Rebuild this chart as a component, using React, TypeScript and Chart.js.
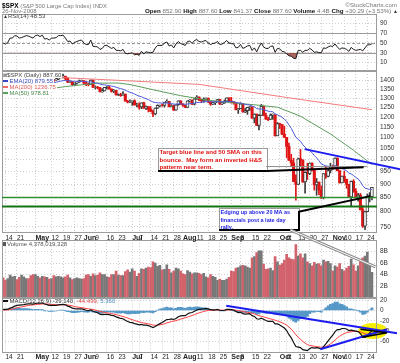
import React, { useEffect, useRef } from 'react';
import { Chart, registerables } from 'chart.js';

Chart.register(...registerables);
Chart.defaults.font.family = '"Liberation Sans", Arial, sans-serif';

// ---------------- data ----------------
const TRADING_DAYS: [number, number[]][] = [
  [4, [11, 14, 15, 16, 17, 18, 21, 22, 23, 24, 25, 28, 29, 30]],
  [5, [1, 2, 5, 6, 7, 8, 9, 12, 13, 14, 15, 16, 19, 20, 21, 22, 23, 27, 28, 29, 30]],
  [6, [2, 3, 4, 5, 6, 9, 10, 11, 12, 13, 16, 17, 18, 19, 20, 23, 24, 25, 26, 27, 30]],
  [7, [1, 2, 3, 7, 8, 9, 10, 11, 14, 15, 16, 17, 18, 21, 22, 23, 24, 25, 28, 29, 30, 31]],
  [8, [1, 4, 5, 6, 7, 8, 11, 12, 13, 14, 15, 18, 19, 20, 21, 22, 25, 26, 27, 28, 29]],
  [9, [2, 3, 4, 5, 8, 9, 10, 11, 12, 15, 16, 17, 18, 19, 22, 23, 24, 25, 26, 29, 30]],
  [10, [1, 2, 3, 6, 7, 8, 9, 10, 13, 14, 15, 16, 17, 20, 21, 22, 23, 24, 27, 28, 29, 30, 31]],
  [11, [3, 4, 5, 6, 7, 10, 11, 12, 13, 14, 17, 18, 19, 20, 21, 24, 25, 26]],
];
const DATES = TRADING_DAYS.flatMap(([m, ds]) => ds.map((d) => `${m}/${d}`));

const OPEN = [
  1357, 1333, 1328, 1334, 1365, 1366, 1390, 1388, 1376, 1380, 1389, 1398, 1396, 1391,
  1386, 1409, 1414, 1407, 1418, 1393, 1398, 1388, 1404, 1403, 1409, 1424, 1425, 1427, 1413, 1391, 1394, 1376, 1385, 1391, 1398,
  1400, 1386, 1378, 1377, 1404, 1361, 1362, 1358, 1335, 1340, 1362, 1360, 1351, 1338, 1343, 1319, 1318, 1314, 1322, 1283, 1278,
  1280, 1285, 1262, 1263, 1252, 1274, 1245, 1253, 1239, 1228, 1215, 1245, 1260, 1261, 1260, 1277, 1282, 1253, 1258, 1234, 1263, 1284,
  1267, 1260, 1249, 1285, 1289, 1266, 1296, 1305, 1290, 1286, 1293, 1298, 1279, 1267, 1275, 1278, 1292, 1267, 1272, 1282, 1301,
  1283, 1278, 1275, 1237, 1242, 1268, 1225, 1232, 1249, 1252, 1193, 1214, 1156, 1207, 1255, 1207, 1188, 1186, 1209, 1210, 1106,
  1166, 1161, 1114, 1099, 1057, 996, 985, 910, 899, 1003, 998, 908, 946, 941, 985, 955, 897, 908, 877, 849, 941, 930, 954,
  969, 966, 1006, 953, 905, 931, 919, 899, 852, 911, 873, 851, 859, 807, 752, 800, 852, 852.9,
];
const HIGH = [
  1357, 1335, 1336, 1368, 1371, 1395, 1390, 1389, 1388, 1397, 1398, 1402, 1397, 1404,
  1410, 1422, 1415, 1421, 1418, 1401, 1398, 1405, 1407, 1420, 1424, 1427, 1440, 1427, 1420, 1399, 1394, 1387, 1392, 1404, 1404,
  1400, 1394, 1386, 1405, 1404, 1370, 1366, 1361, 1353, 1360, 1365, 1367, 1351, 1348, 1343, 1323, 1327, 1336, 1322, 1287, 1290,
  1285, 1290, 1272, 1273, 1274, 1277, 1257, 1253, 1254, 1235, 1246, 1263, 1262, 1267, 1277, 1291, 1282, 1264, 1260, 1264, 1285, 1285,
  1270, 1260, 1285, 1292, 1289, 1297, 1313, 1306, 1294, 1301, 1301, 1301, 1279, 1277, 1280, 1293, 1292, 1276, 1289, 1301, 1301,
  1304, 1281, 1275, 1244, 1274, 1268, 1243, 1250, 1255, 1252, 1215, 1214, 1211, 1265, 1255, 1219, 1197, 1215, 1215, 1210, 1171,
  1166, 1161, 1153, 1099, 1072, 1022, 1005, 936, 1006, 1044, 998, 948, 984, 985, 985, 955, 922, 908, 893, 941, 970, 963, 984,
  975, 1007, 1006, 953, 931, 951, 919, 899, 912, 917, 883, 865, 865, 821, 801, 863, 868, 887.6,
];
const LOW = [
  1331, 1324, 1324, 1334, 1360, 1366, 1380, 1371, 1372, 1367, 1380, 1394, 1386, 1384,
  1383, 1406, 1404, 1398, 1391, 1390, 1384, 1387, 1396, 1403, 1405, 1416, 1416, 1406, 1388, 1389, 1372, 1374, 1379, 1390, 1396,
  1378, 1371, 1369, 1377, 1359, 1351, 1352, 1335, 1332, 1340, 1351, 1350, 1333, 1330, 1316, 1314, 1309, 1314, 1283, 1273, 1275,
  1260, 1261, 1252, 1240, 1242, 1244, 1237, 1225, 1226, 1200, 1210, 1243, 1251, 1255, 1251, 1276, 1252, 1251, 1234, 1234, 1260, 1265,
  1254, 1247, 1249, 1277, 1264, 1262, 1292, 1285, 1275, 1276, 1287, 1274, 1260, 1263, 1264, 1278, 1264, 1263, 1271, 1282, 1282,
  1272, 1266, 1236, 1217, 1242, 1224, 1221, 1212, 1233, 1192, 1169, 1156, 1134, 1207, 1206, 1187, 1180, 1186, 1187, 1106, 1106,
  1141, 1112, 1098, 1008, 996, 970, 909, 840, 899, 972, 907, 866, 918, 937, 952, 877, 858, 860, 846, 845, 922, 928, 944,
  958, 966, 952, 904, 905, 907, 884, 852, 818, 869, 848, 837, 806, 748, 741, 800, 834, 841.37,
];
const CLOSE = [
  1333, 1328, 1334, 1365, 1366, 1390, 1388, 1376, 1380, 1389, 1398, 1396, 1391, 1386,
  1409, 1414, 1407, 1418, 1393, 1398, 1388, 1404, 1403, 1409, 1424, 1425, 1427, 1413, 1391, 1394, 1376, 1385, 1391, 1398, 1400,
  1386, 1378, 1377, 1404, 1361, 1362, 1358, 1335, 1340, 1360, 1360, 1351, 1338, 1343, 1318, 1318, 1314, 1322, 1283, 1278, 1280,
  1285, 1262, 1263, 1252, 1274, 1245, 1253, 1239, 1228, 1215, 1245, 1260, 1261, 1260, 1277, 1282, 1253, 1258, 1234, 1263, 1284, 1267,
  1260, 1249, 1285, 1289, 1266, 1296, 1305, 1290, 1286, 1293, 1298, 1279, 1267, 1275, 1278, 1292, 1267, 1272, 1282, 1301, 1283,
  1278, 1275, 1237, 1242, 1268, 1225, 1232, 1249, 1252, 1193, 1214, 1156, 1207, 1255, 1207, 1188, 1186, 1209, 1213, 1106, 1166,
  1161, 1114, 1099, 1057, 996, 985, 910, 899, 1003, 998, 908, 946, 941, 985, 955, 897, 908, 877, 849, 941, 930, 954, 969,
  966, 1006, 953, 905, 931, 919, 899, 852, 911, 873, 851, 859, 807, 752, 800, 852, 857.31, 887.6,
];
const VOLUME_B = [
  3.4, 3.0, 3.3, 3.9, 3.6, 3.7, 3.1, 3.5, 3.9, 3.6, 3.3, 3.3, 3.8, 4.0,
  4.0, 3.7, 3.4, 3.7, 3.6, 3.5, 3.2, 3.3, 3.8, 3.6, 3.7, 3.6, 3.4, 3.6, 3.9, 3.4, 3.1, 3.3, 3.4, 3.3, 3.2,
  3.3, 3.9, 4.0, 3.7, 4.1, 3.8, 3.9, 4.3, 4.0, 4.0, 3.6, 3.5, 4.0, 4.0, 4.6, 3.9, 3.8, 3.8, 4.5, 4.8, 4.4,
  5.0, 4.6, 3.7, 4.2, 5.0, 4.9, 5.1, 5.3, 5.2, 6.2, 6.0, 5.4, 5.6, 4.8, 4.9, 5.7, 4.9, 4.3, 4.6, 5.1, 5.0, 4.6,
  4.1, 4.0, 4.7, 4.4, 4.1, 4.3, 4.3, 4.2, 4.0, 4.2, 3.6, 3.4, 4.0, 3.7, 3.5, 3.0, 3.2, 3.0, 3.0, 3.2, 3.5,
  4.6, 4.5, 5.1, 5.2, 5.5, 5.6, 5.5, 5.3, 5.1, 6.9, 7.1, 7.8, 8.1, 8.1, 5.8, 4.9, 5.0, 5.1, 4.7, 7.1, 6.2,
  5.6, 5.9, 6.5, 7.5, 6.9, 6.7, 6.6, 9.2, 7.2, 7.6, 6.9, 7.6, 6.2, 5.9, 5.5, 6.1, 5.8, 5.9, 5.5, 6.5, 6.2, 6.3, 5.9,
  4.6, 5.5, 5.3, 5.9, 4.9, 4.6, 5.1, 5.4, 6.7, 5.7, 4.6, 5.5, 6.3, 6.9, 7.2, 7.9, 5.6, 4.38,
];
const RSI14 = [
  50, 48, 51, 60, 60, 65, 64, 60, 61, 63, 65, 64, 62, 60,
  65, 66, 63, 66, 58, 59, 56, 60, 60, 61, 65, 65, 66, 60, 53, 54, 48, 51, 53, 55, 56,
  50, 47, 47, 56, 43, 43, 42, 37, 39, 45, 45, 42, 39, 41, 35, 35, 34, 37, 29, 28, 29,
  30, 26, 27, 25, 33, 28, 32, 31, 30.5, 31, 40, 45, 45, 45, 50, 52, 44, 46, 40, 48, 53, 49,
  47, 45, 53, 54, 49, 55, 57, 53, 52, 54, 55, 50, 47, 49, 50, 53, 47, 48, 51, 55, 50,
  49, 48, 40, 41, 47, 39, 41, 44, 45, 35, 40, 32, 42, 50, 42, 39, 39, 43, 44, 31, 39,
  38, 33, 32, 28, 24, 23, 19, 18, 35, 35, 31, 35, 35, 39, 36, 31, 32, 30.5, 30, 40, 39, 42, 44,
  43, 48, 42, 37, 40, 39, 37, 33, 41, 37, 35, 36, 37, 34, 40, 46, 46.5, 48.53,
];
const EMA20 = [
  1335, 1334, 1334, 1337, 1340, 1345, 1349, 1351, 1354, 1357, 1361, 1364, 1367, 1369,
  1373, 1377, 1380, 1383, 1384, 1385, 1386, 1387, 1389, 1391, 1394, 1397, 1400, 1401, 1400, 1399, 1397, 1396, 1396, 1396, 1396,
  1395, 1394, 1392, 1393, 1390, 1387, 1385, 1380, 1376, 1375, 1373, 1371, 1368, 1366, 1361, 1357, 1353, 1350, 1344, 1338, 1332,
  1328, 1322, 1316, 1310, 1307, 1301, 1296, 1291, 1285, 1278, 1275, 1274, 1273, 1272, 1272, 1273, 1271, 1270, 1267, 1266, 1268, 1268,
  1267, 1265, 1267, 1269, 1269, 1272, 1275, 1276, 1277, 1279, 1280, 1280, 1279, 1279, 1279, 1280, 1279, 1278, 1278, 1281, 1281,
  1281, 1280, 1276, 1273, 1272, 1268, 1265, 1263, 1262, 1256, 1252, 1243, 1240, 1241, 1238, 1233, 1229, 1227, 1226, 1215, 1210,
  1205, 1197, 1188, 1176, 1159, 1142, 1120, 1099, 1090, 1081, 1065, 1054, 1043, 1038, 1030, 1017, 1007, 995, 981, 977, 973, 971, 971,
  970, 974, 972, 965, 962, 958, 953, 943, 940, 934, 926, 920, 909, 894, 885, 882, 880, 879.55,
];
const MA50_PTS: [number, number][] = [
  [0, 1335], [14, 1340], [27, 1365], [41, 1385], [50, 1386], [55, 1377], [65, 1347], [77, 1313],
  [88, 1290], [98, 1275], [108, 1264], [119, 1250], [129, 1203], [142, 1115], [152, 1040], [160, 978.81],
];
const MA200_PTS: [number, number][] = [
  [0, 1438], [23, 1420], [50, 1402], [85, 1378], [123, 1303], [160, 1236.75],
];
const MACD_LINE = [
  2, 2, 2.5, 4.5, 6, 8.5, 10, 10.5, 11, 11.5, 12.5, 13, 13, 12.5,
  13.5, 14, 14, 14.5, 12.5, 11.5, 10, 10, 10, 10, 11, 11.5, 12, 11, 8.5, 7, 4.5, 3.5, 3, 3, 3,
  2, 0.5, -0.5, 1, -1.5, -3, -4.5, -7, -8, -7.5, -7.5, -8, -9.5, -10, -12.5, -14, -15.5, -16, -19, -21.5, -23,
  -23.5, -25.5, -26.5, -28, -27, -28.5, -28.5, -29.5, -31, -33, -31, -28, -25.5, -23.5, -20.5, -17.5, -17.5, -16.5, -17.5, -15.5, -12, -10.5,
  -10, -10, -7, -4.5, -4, -1.5, 1, 2, 2.5, 3, 4, 3, 1.5, 1, 1, 2, 0.5, 0, 0.5, 2, 2,
  1.5, 1, -2, -4, -3.5, -6, -7, -6.5, -6, -10, -11.5, -16, -17, -15, -17, -19.5, -21, -21, -21, -26, -26,
  -28, -31, -34, -39, -47, -53, -62, -70, -71, -72, -76, -77, -78, -74, -72, -73, -72, -73, -75, -70, -65, -59, -53,
  -48, -41, -37, -37, -35, -35, -36, -39, -38, -39, -40, -41, -45, -51, -52, -49, -44, -39.14,
];
const MACD_SIGNAL = [
  0.5, 0.8, 1.1, 1.8, 2.7, 3.8, 5.1, 6.2, 7.1, 8, 8.9, 9.7, 10.4, 10.8,
  11.3, 11.9, 12.3, 12.7, 12.7, 12.5, 12, 11.6, 11.3, 11, 11, 11.1, 11.3, 11.2, 10.7, 9.9, 8.9, 7.8, 6.8, 6.1, 5.5,
  4.8, 3.9, 3, 2.6, 1.8, 0.8, -0.2, -1.6, -2.9, -3.8, -4.5, -5.2, -6.1, -6.9, -8, -9.2, -10.5, -11.6, -13.1, -14.7, -16.4,
  -17.8, -19.4, -20.8, -22.2, -23.2, -24.2, -25.1, -26, -27, -28.2, -28.8, -28.6, -28, -27.1, -25.8, -24.1, -22.8, -21.5, -20.7, -19.7, -18.2, -16.6,
  -15.3, -14.2, -12.8, -11.1, -9.7, -8.1, -6.3, -4.6, -3.2, -2, -0.8, 0, 0.3, 0.4, 0.6, 0.8, 0.8, 0.6, 0.6, 0.9, 1.1,
  1.2, 1.2, 0.5, -0.4, -1, -2, -3, -3.7, -4.2, -5.3, -6.6, -8.5, -10.2, -11.1, -12.3, -13.7, -15.2, -16.4, -17.3, -19, -20.4,
  -21.9, -23.7, -25.8, -28.4, -32.1, -36.3, -41.4, -47.1, -51.9, -55.9, -59.9, -63.3, -66.3, -67.8, -68.7, -69.5, -70, -70.6, -71.5, -71.2, -70, -67.8, -64.8,
  -61.5, -57.4, -53.3, -50, -47, -44.6, -42.9, -42.1, -41.3, -40.8, -40.7, -40.7, -41.6, -43.5, -45.2, -45.9, -45.5, -44.499,
];
const MACD_HIST = [
  1.5, 1.2, 1.4, 2.7, 3.3, 4.7, 4.9, 4.3, 3.9, 3.5, 3.6, 3.3, 2.6, 1.7,
  2.2, 2.1, 1.7, 1.8, -0.2, -1, -2, -1.6, -1.3, -1, 0, 0.4, 0.7, -0.2, -2.2, -2.9, -4.4, -4.3, -3.8, -3.1, -2.5,
  -2.8, -3.4, -3.5, -1.6, -3.3, -3.8, -4.3, -5.4, -5.1, -3.7, -3, -2.8, -3.4, -3.1, -4.5, -4.8, -5, -4.4, -5.9, -6.8, -6.6,
  -5.7, -6.1, -5.7, -5.8, -3.8, -4.3, -3.4, -3.5, -4, -4.8, -2.2, 0.6, 2.5, 3.6, 5.3, 6.6, 5.3, 5, 3.2, 4.2, 6.2, 6.1,
  5.3, 4.2, 5.8, 6.6, 5.7, 6.6, 7.3, 6.6, 5.7, 5, 4.8, 3, 1.2, 0.6, 0.4, 1.2, -0.3, -0.6, -0.1, 1.1, 0.9,
  0.3, -0.2, -2.5, -3.6, -2.5, -4, -4, -2.8, -1.8, -4.7, -4.9, -7.5, -6.8, -3.9, -4.7, -5.8, -5.8, -4.6, -3.7, -7, -5.6,
  -6.1, -7.3, -8.2, -10.6, -14.9, -16.7, -20.6, -22.9, -19.1, -16.1, -16.1, -13.7, -11.7, -6.2, -3.3, -3.5, -2, -2.4, -3.5, 1.2, 5, 8.8, 11.8,
  13.5, 16.4, 16.3, 13, 12, 9.6, 6.9, 3.1, 3.3, 1.8, 0.7, -0.3, -3.4, -7.5, -6.8, -3.1, 1.5, 5.36,
];

const X_TICKS: [string, string][] = [
  ['4/14', '14'], ['4/21', '21'], ['5/1', 'May'], ['5/12', '12'], ['5/19', '19'], ['5/27', '27'],
  ['6/2', 'Jun'], ['6/9', '9'], ['6/16', '16'], ['6/23', '23'], ['7/1', 'Jul'], ['7/7', '7'],
  ['7/14', '14'], ['7/21', '21'], ['7/28', '28'], ['8/1', 'Aug'], ['8/11', '11'], ['8/18', '18'],
  ['8/25', '25'], ['9/2', 'Sep'], ['9/8', '8'], ['9/15', '15'], ['9/22', '22'], ['10/1', 'Oct'],
  ['10/6', '6'], ['10/13', '13'], ['10/20', '20'], ['10/27', '27'], ['11/3', 'Nov'], ['11/10', '10'],
  ['11/17', '17'], ['11/24', '24'],
];
const RSI_TICKS = [10, 30, 50, 70, 90];
const PRICE_TICKS = [750, 800, 850, 900, 950, 1000, 1050, 1100, 1150, 1200, 1250, 1300, 1350, 1400];
const VOLUME_TICKS = [2, 4, 6, 8];
const MACD_TICKS = [20, 0, -20, -40, -60];

// annotations (in data units of their panel)
const SUPPORT_LEVELS = [850, 818];
const PRICE_TRENDLINE: [number, number][] = [[130.8, 1045], [172.3, 959]];
const NOTE1 = { x0: 67.3, x1: 114.5, y0: 1050, y1: 953 };
const NOTE1_TEXT = ['Target blue line and 50 SMA on this', 'bounce.  May form an inverted H&S', 'patterm near term.'];
const NOTE1_BLACK: [number, number][] = [[114.5, 952], [156.4, 967]];
const NOTE1_GRAY: [number, number][] = [[114, 970], [158, 970]];
const NOTE2 = { x0: 93.5, x1: 128.2, y0: 811.6, y1: 739.6 };
const NOTE2_TEXT = ['Edging up above 20 MA as', 'financials post a late day', 'rally.'];
const NOTE2_POINTER: [number, number][] = [[128.2, 800], [159.3, 855]];
const NOTE2_TO_VOLUME: [number, number][] = [[124.6, 740], [161.5, 632]];
const MACD_UPPER: [number, number][] = [[96.8, 9.3], [170.9, -44.3]];
const MACD_LOWER: [number, number][] = [[137.6, -75.3], [166.6, -36.5]];
const MACD_TRI_A: [number, number][] = [[155, -36.5], [166.5, -43.1]];
const MACD_TRI_B: [number, number][] = [[155.7, -52], [166.5, -43.1]];
const MACD_ELLIPSE = { x0: 154.1, x1: 166.7, y0: -24.3, y1: -55.3 };

// ---------------- helpers ----------------
const X_MIN = -0.5;
const X_MAX = 162.2;
const TICK_IDX = X_TICKS.map(([d, label]) => ({ idx: DATES.indexOf(d), label }));
const TICK_LABEL = new Map<number, string>(TICK_IDX.map((t) => [t.idx, t.label]));
const MONTHS = new Set(['May', 'Jun', 'Jul', 'Aug', 'Sep', 'Oct', 'Nov']);
const GRID = '#cfcfcf';

function xScale(showLabels: boolean, h: number): any {
  return {
    type: 'linear', min: X_MIN, max: X_MAX, bounds: 'data', offset: false,
    afterBuildTicks: (s: any) => { s.ticks = TICK_IDX.map((t) => ({ value: t.idx })); },
    afterFit: (s: any) => { s.height = h; },
    ticks: {
      display: showLabels, autoSkip: false, maxRotation: 0, minRotation: 0, align: 'start', padding: 1,
      color: '#222',
      font: (c: any) => (MONTHS.has(TICK_LABEL.get(c?.tick?.value) ?? '') ? { size: 7, weight: 'bold' } : { size: 6.5 }),
      callback: (v: any) => TICK_LABEL.get(Number(v)) ?? '',
    },
    grid: { color: GRID, lineWidth: 1, drawTicks: false, offset: false },
    border: { display: false, dash: [1, 2] },
  };
}
function yScale(cfg: any, tickVals: number[], fmt: (v: number) => string): any {
  return {
    position: 'right', bounds: 'data', ...cfg,
    afterBuildTicks: (s: any) => { s.ticks = tickVals.map((v) => ({ value: v })); },
    afterFit: (s: any) => { s.width = 23; },
    ticks: { color: '#333', font: { size: 6.5 }, padding: 3, autoSkip: false, callback: (v: any) => fmt(Number(v)) },
    grid: { color: GRID, drawTicks: false },
    border: { display: false, dash: [1, 2] },
  };
}
function baseOptions(top: number, bottom: number): any {
  return {
    responsive: false, maintainAspectRatio: false, animation: false, devicePixelRatio: 1, events: [],
    layout: { padding: { left: 2, right: 0, top, bottom } },
    plugins: { legend: { display: false }, tooltip: { enabled: false }, title: { display: false } },
  };
}
const framePlugin = {
  id: 'frame',
  afterDraw(chart: any) {
    const { ctx, chartArea: a } = chart;
    ctx.save();
    ctx.strokeStyle = '#9c9c9c';
    ctx.lineWidth = 1;
    ctx.strokeRect(Math.round(a.left) + 0.5, Math.round(a.top) + 0.5, Math.round(a.right - a.left) - 1, Math.round(a.bottom - a.top) - 1);
    ctx.restore();
  },
};
function seg(chart: any, pts: [number, number][], color: string, width: number) {
  const { ctx, scales } = chart;
  ctx.save();
  ctx.strokeStyle = color;
  ctx.lineWidth = width;
  ctx.beginPath();
  pts.forEach(([a, b], k) => {
    const px = scales.x.getPixelForValue(a);
    const py = scales.y.getPixelForValue(b);
    if (k) ctx.lineTo(px, py); else ctx.moveTo(px, py);
  });
  ctx.stroke();
  ctx.restore();
}
function noteBox(chart: any, b: any, lines: string[], color: string, fontPx: number, rightBlack: boolean) {
  const { ctx, scales } = chart;
  const x0 = Math.round(scales.x.getPixelForValue(b.x0));
  const x1 = Math.round(scales.x.getPixelForValue(b.x1));
  const y0 = Math.round(scales.y.getPixelForValue(b.y0));
  const y1 = Math.round(scales.y.getPixelForValue(b.y1));
  ctx.save();
  ctx.fillStyle = '#fff';
  ctx.fillRect(x0, y0, x1 - x0, y1 - y0);
  ctx.strokeStyle = '#9a9a9a';
  ctx.lineWidth = 1;
  ctx.strokeRect(x0 + 0.5, y0 + 0.5, x1 - x0, y1 - y0);
  ctx.strokeStyle = '#000';
  ctx.lineWidth = 2;
  ctx.beginPath();
  ctx.moveTo(x0, y1);
  ctx.lineTo(x1 + 1, y1);
  if (rightBlack) { ctx.moveTo(x1, y0 + 3); ctx.lineTo(x1, y1); }
  ctx.stroke();
  ctx.fillStyle = color;
  ctx.font = `bold ${fontPx}px "Liberation Sans", Arial, sans-serif`;
  ctx.textBaseline = 'middle';
  lines.forEach((t, k) => ctx.fillText(t, x0 + 1.5, y0 + 4.6 + k * 7.4));
  ctx.restore();
}

const UP = '#3a3a3a';
const DOWN = '#e01414';
const VOL_UP = '#787878';
const VOL_DOWN = '#d2636c';

export default function App() {
  const rsiRef = useRef<HTMLCanvasElement | null>(null);
  const priceRef = useRef<HTMLCanvasElement | null>(null);
  const volRef = useRef<HTMLCanvasElement | null>(null);
  const macdRef = useRef<HTMLCanvasElement | null>(null);

  useEffect(() => {
    document.body.style.margin = '0';
    const charts: Chart[] = [];
    const idx = CLOSE.map((_, i) => i);
    const upDay = (i: number) => (i === 0 ? CLOSE[0] >= OPEN[0] : CLOSE[i] >= CLOSE[i - 1]);
    const hollow = (i: number) => CLOSE[i] >= OPEN[i];
    const hollowIdx = idx.filter(hollow);
    const filledIdx = idx.filter((i) => !hollow(i));

    // RSI
    charts.push(new Chart(rsiRef.current as HTMLCanvasElement, {
      type: 'line',
      data: {
        datasets: [{
          data: RSI14.map((v, i) => ({ x: i, y: v })),
          borderColor: '#1a1a1a', borderWidth: 1, pointRadius: 0, tension: 0,
          fill: { target: { value: 30 }, above: 'rgba(0,0,0,0)', below: 'rgba(150,72,60,0.85)' },
        }],
      },
      options: {
        ...baseOptions(14, 292),
        scales: { x: xScale(false, 0), y: yScale({ type: 'linear', min: -7, max: 109 }, RSI_TICKS, (v) => String(v)) },
      },
      plugins: [framePlugin, {
        id: 'rsiLevels',
        beforeDatasetsDraw(chart: any) {
          const { ctx, chartArea: a, scales } = chart;
          ctx.save();
          ctx.lineWidth = 1;
          ([[70, []], [30, []], [50, [3, 2]]] as [number, number[]][]).forEach(([v, dash]) => {
            const py = Math.round(scales.y.getPixelForValue(v)) + 0.5;
            ctx.setLineDash(dash);
            ctx.strokeStyle = '#9a9a9a';
            ctx.beginPath();
            ctx.moveTo(a.left, py);
            ctx.lineTo(a.right, py);
            ctx.stroke();
          });
          ctx.restore();
        },
      }] as any,
    } as any));

    // Volume
    charts.push(new Chart(volRef.current as HTMLCanvasElement, {
      type: 'bar',
      data: {
        datasets: [{
          data: VOLUME_B.map((v, i) => ({ x: i, y: v })),
          backgroundColor: idx.map((i) => (upDay(i) ? VOL_UP : VOL_DOWN)),
          barThickness: 2, grouped: false,
        }],
      },
      options: {
        ...baseOptions(240, 65.5),
        scales: { x: xScale(false, 0), y: yScale({ type: 'linear', min: 0, max: 10 }, VOLUME_TICKS, (v) => `${v}B`) },
      },
      plugins: [framePlugin] as any,
    } as any));

    // MACD
    charts.push(new Chart(macdRef.current as HTMLCanvasElement, {
      type: 'bar',
      data: {
        datasets: [
          { type: 'line', data: MACD_LINE.map((v, i) => ({ x: i, y: v })), borderColor: '#111', borderWidth: 1.2, pointRadius: 0, order: 0 },
          { type: 'line', data: MACD_SIGNAL.map((v, i) => ({ x: i, y: v })), borderColor: '#ff3c3c', borderWidth: 1, pointRadius: 0, order: 1 },
          { type: 'bar', data: MACD_HIST.map((v, i) => ({ x: i, y: v })), backgroundColor: '#5598c8', barThickness: 2.2, grouped: false, order: 2 },
        ],
      },
      options: {
        ...baseOptions(297.5, 1),
        scales: { x: xScale(true, 10), y: yScale({ type: 'linear', min: -80.6, max: 25.2 }, MACD_TICKS, (v) => String(v)) },
      },
      plugins: [framePlugin, {
        id: 'macdNotes',
        beforeDatasetDraw(chart: any, args: any) {
          if (args.index !== 1) return;
          const { ctx, scales } = chart;
          const x0 = scales.x.getPixelForValue(MACD_ELLIPSE.x0);
          const x1 = scales.x.getPixelForValue(MACD_ELLIPSE.x1);
          const y0 = scales.y.getPixelForValue(MACD_ELLIPSE.y0);
          const y1 = scales.y.getPixelForValue(MACD_ELLIPSE.y1);
          ctx.save();
          ctx.fillStyle = '#f6ee00';
          ctx.beginPath();
          ctx.ellipse((x0 + x1) / 2, (y0 + y1) / 2, Math.abs(x1 - x0) / 2, Math.abs(y1 - y0) / 2, 0, 0, Math.PI * 2);
          ctx.fill();
          ctx.restore();
        },
        afterDraw(chart: any) {
          seg(chart, MACD_UPPER, '#1c1cf0', 2);
          seg(chart, MACD_LOWER, '#1c1cf0', 2);
          seg(chart, MACD_TRI_A, '#000', 1.5);
          seg(chart, MACD_TRI_B, '#000', 1.5);
        },
      }] as any,
    } as any));

    // Price
    charts.push(new Chart(priceRef.current as HTMLCanvasElement, {
      type: 'bar',
      data: {
        datasets: [
          { type: 'line', data: EMA20.map((v, i) => ({ x: i, y: v })), borderColor: '#4d57d8', borderWidth: 1, pointRadius: 0, order: 0 },
          { type: 'line', data: MA50_PTS.map(([x, y]) => ({ x, y })), borderColor: '#5c9c5c', borderWidth: 1, pointRadius: 0, order: 0 },
          { type: 'line', data: MA200_PTS.map(([x, y]) => ({ x, y })), borderColor: '#f27b7b', borderWidth: 1, pointRadius: 0, order: 0 },
          {
            type: 'bar', data: hollowIdx.map((i) => ({ x: i, y: [OPEN[i], CLOSE[i]] })),
            backgroundColor: '#ffffff', borderColor: hollowIdx.map((i) => (upDay(i) ? UP : DOWN)),
            borderWidth: 1, borderSkipped: false, barThickness: 3, grouped: false, order: 1,
          },
          {
            type: 'bar', data: filledIdx.map((i) => ({ x: i, y: [OPEN[i], CLOSE[i]] })),
            backgroundColor: filledIdx.map((i) => (upDay(i) ? UP : DOWN)),
            borderWidth: 0, barThickness: 2.4, grouped: false, order: 1,
          },
          {
            type: 'bar', data: idx.map((i) => ({ x: i, y: [LOW[i], HIGH[i]] })),
            backgroundColor: idx.map((i) => (upDay(i) ? UP : DOWN)),
            borderWidth: 0, barThickness: 1, grouped: false, order: 2,
          },
        ],
      },
      options: {
        ...baseOptions(71, 120),
        scales: {
          x: xScale(true, 10),
          y: yScale({ type: 'logarithmic', min: 730.4, max: 1459 }, PRICE_TICKS, (v) => String(v)),
        },
      },
      plugins: [framePlugin, {
        id: 'priceNotes',
        afterDraw(chart: any) {
          const { ctx, chartArea: a, scales } = chart;
          ctx.save();
          SUPPORT_LEVELS.forEach((lv, k) => {
            const py = scales.y.getPixelForValue(lv);
            ctx.strokeStyle = k === 0 ? '#2f8f2f' : '#177317';
            ctx.lineWidth = k === 0 ? 1.3 : 2;
            ctx.beginPath();
            ctx.moveTo(a.left, py);
            ctx.lineTo(a.right, py);
            ctx.stroke();
          });
          ctx.restore();
          seg(chart, PRICE_TRENDLINE, '#1c1cf0', 2);
          noteBox(chart, NOTE1, NOTE1_TEXT, '#e01010', 6.1, false);
          seg(chart, NOTE1_GRAY, '#8c8c8c', 1);
          seg(chart, NOTE1_BLACK, '#000', 2);
          noteBox(chart, NOTE2, NOTE2_TEXT, '#1e1ee6', 5.5, true);
          seg(chart, NOTE2_POINTER, '#000', 2);
          seg(chart, NOTE2_TO_VOLUME, '#8a8a8a', 3);
          seg(chart, NOTE2_TO_VOLUME, '#ffffff', 1);
        },
      }] as any,
    } as any));

    return () => { charts.forEach((c) => c.destroy()); };
  }, []);

  const cv: React.CSSProperties = { position: 'absolute', left: 0, top: 0, width: 400, height: 363 };
  const T: React.CSSProperties = {
    position: 'absolute', whiteSpace: 'nowrap', fontFamily: '"Liberation Sans", Arial, sans-serif',
    fontSize: 6, lineHeight: '6px', color: '#555',
  };
  const dash = (c: string): React.CSSProperties => ({
    display: 'inline-block', width: 5, height: 1.5, background: c, verticalAlign: 'middle', marginRight: 1.5,
  });
  const B: React.CSSProperties = { fontWeight: 'bold', color: '#111' };
  const G: React.CSSProperties = { color: '#777' };

  return (
    <div style={{ position: 'absolute', left: 0, top: 0, width: 400, height: 363, overflow: 'hidden', background: '#fff' }}>
      <canvas ref={rsiRef} width={400} height={363} style={cv} />
      <canvas ref={volRef} width={400} height={363} style={cv} />
      <canvas ref={macdRef} width={400} height={363} style={cv} />
      <canvas ref={priceRef} width={400} height={363} style={cv} />

      <div style={{ ...T, left: 2, top: 1.5, lineHeight: '7px' }}>
        <span style={{ fontWeight: 'bold', color: '#000', fontSize: 6.5 }}>$SPX</span>{' '}
        <span style={{ color: '#777', fontSize: 5.8 }}>{'(S&P 500 Large Cap Index) INDX'}</span>
      </div>
      <div style={{ ...T, right: 3, top: 2, color: '#777', fontSize: 6.2 }}>©StockCharts.com</div>
      <div style={{ ...T, left: 2, top: 8, color: '#777' }}>26-Nov-2008</div>
      <div style={{ ...T, right: 2, top: 8, fontSize: 6.2 }}>
        <span style={B}>Open</span> <span style={G}>852.90</span>{' '}
        <span style={B}>High</span> <span style={G}>887.60</span>{' '}
        <span style={B}>Low</span> <span style={G}>841.37</span>{' '}
        <span style={B}>Close</span> <span style={G}>887.60</span>{' '}
        <span style={B}>Volume</span> <span style={G}>4.4B</span>{' '}
        <span style={B}>Chg</span> <span style={G}>+30.29 (+3.53%)</span> <span style={{ color: '#333', fontSize: 5 }}>▲</span>
      </div>

      <div style={{ ...T, left: 3, top: 13, color: '#444' }}>
        <span style={{ fontSize: 5, color: '#333' }}>▲</span>RSI(14) 48.53
      </div>

      <div style={{ ...T, left: 3, top: 71.5, background: '#fff', color: '#444', paddingRight: 1 }}>
        <span style={{ fontSize: 5, color: '#333' }}>⊠</span>$SPX (Daily) 887.60
      </div>
      <div style={{ ...T, left: 3, top: 77.5, background: '#fff', color: '#3a44b8', paddingRight: 1 }}>
        <span style={dash('#3a44c8')} />EMA(20) 879.55
      </div>
      <div style={{ ...T, left: 3, top: 83.5, background: '#fff', color: '#e05a5a', paddingRight: 1 }}>
        <span style={dash('#ef6a6a')} />MA(200) 1236.75
      </div>
      <div style={{ ...T, left: 3, top: 89.5, background: '#fff', color: '#4d8a4d', paddingRight: 1 }}>
        <span style={dash('#5c9c5c')} />MA(50) 978.81
      </div>

      <div style={{ ...T, left: 3, top: 240.5, color: '#555' }}>
        <span style={{ display: 'inline-block', width: 2.5, height: 4, background: '#555', marginRight: 1.5, verticalAlign: 'middle' }} />
        Volume 4,378,019,328
      </div>
      <div style={{ ...T, left: 3, top: 297.5, color: '#333' }}>
        <span style={dash('#111')} />MACD(12,26,9) -39.140, <span style={{ color: '#e03c3c' }}>-44.499,</span>{' '}
        <span style={{ color: '#4a86b8' }}>5.360</span>
      </div>
    </div>
  );
}
